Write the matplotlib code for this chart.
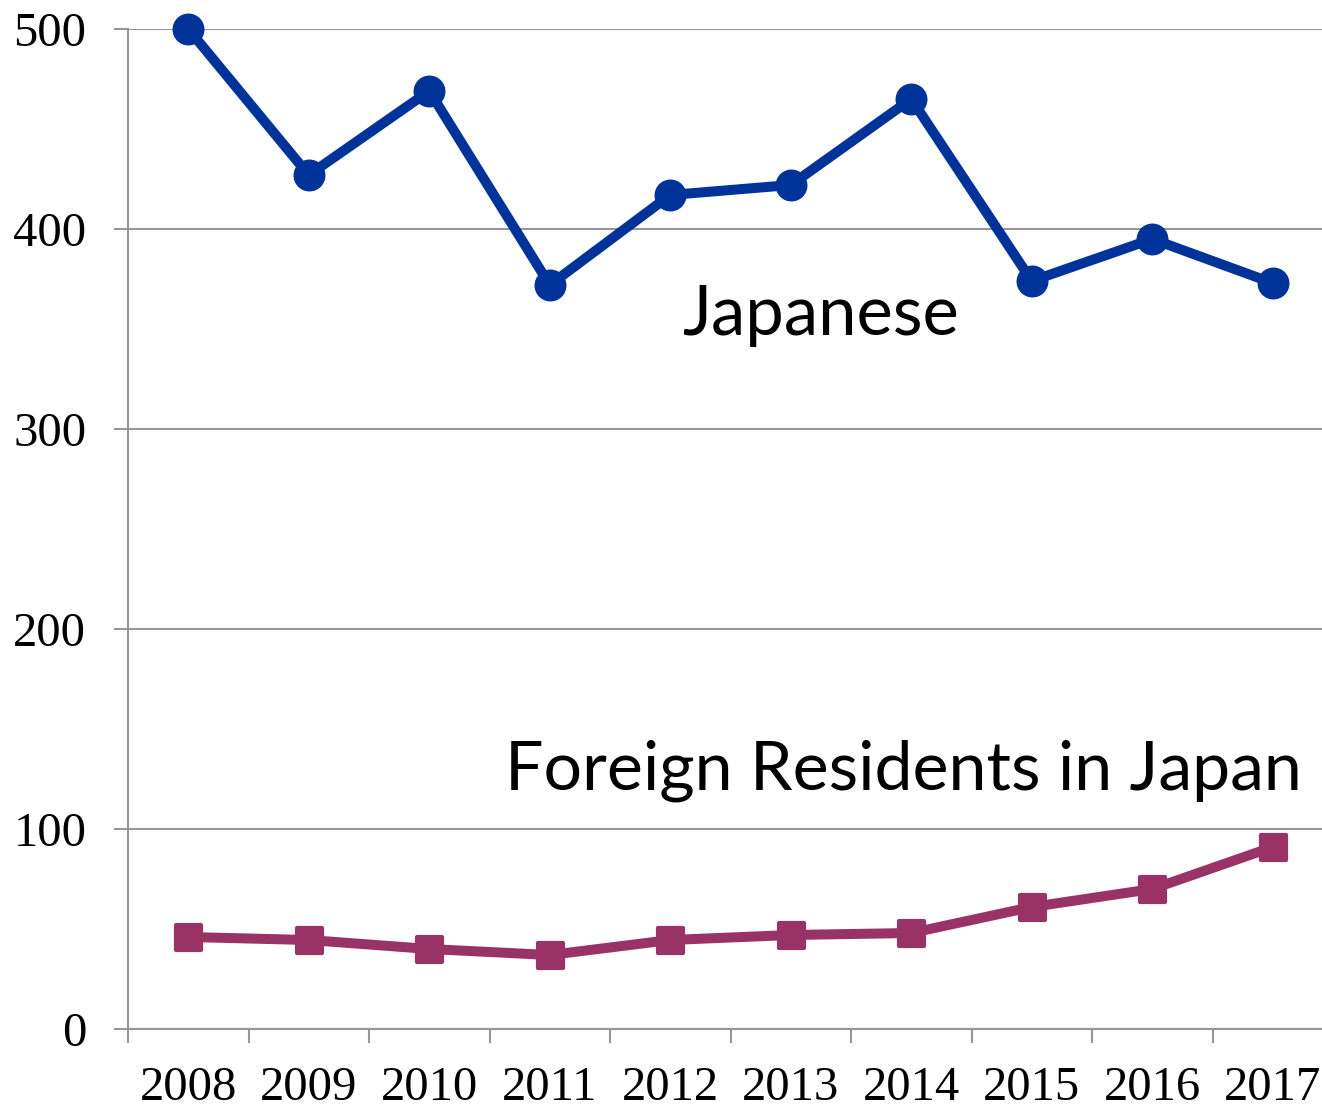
import numpy as np
import matplotlib
matplotlib.use("Agg")
import matplotlib.pyplot as plt
from matplotlib.markers import MarkerStyle

years = ['2008', '2009', '2010', '2011', '2012', '2013', '2014', '2015', '2016', '2017']
japanese = [500, 427, 469, 372, 417, 422, 465, 374, 395, 373]
foreign = [46, 44.5, 40, 37, 44.5, 47, 48, 61, 70, 91]

W, H = 1322, 1108
fig = plt.figure(figsize=(W / 100, H / 100), dpi=100)
# plot area: left edge 128px, category width ~120.5px, y 0..500 over 1000px
ax = fig.add_axes([128 / W, (H - 1029) / H, 1205 / W, 1000 / H])

x = np.arange(len(years))
ax.plot(x, japanese, color='#003399', linewidth=7.2, marker='o', markersize=22,
        solid_joinstyle='round', zorder=3, clip_on=False)
ax.plot(x, foreign, color='#993366', linewidth=7.2,
        marker=MarkerStyle('s', joinstyle='round'), markersize=18,
        markeredgewidth=3, solid_joinstyle='round', zorder=3, clip_on=False)

ax.set_xlim(-0.5, len(years) - 0.5)
ax.set_ylim(0, 500)

grid_c = '#969696'
ax.set_yticks(np.arange(0, 501, 100))
ax.yaxis.grid(True, color=grid_c, linewidth=1.5)
ax.set_axisbelow(True)

# category boundaries carry the tick marks, centres carry the labels
ax.set_xticks(np.arange(-0.5, len(years), 1.0))
ax.set_xticklabels([])
ax.set_xticks(x, minor=True)
ax.set_xticklabels(years, minor=True)

for s in ['top', 'right']:
    ax.spines[s].set_visible(False)
for s in ['left', 'bottom']:
    ax.spines[s].set_color(grid_c)
    ax.spines[s].set_linewidth(1.5)

ax.tick_params(axis='both', which='major', color=grid_c, width=1.5, length=10,
               direction='out')
ax.tick_params(axis='y', pad=20, labelsize=35)
ax.tick_params(axis='x', which='minor', length=0, pad=27, labelsize=35)
for lab in ax.get_yticklabels() + ax.get_xticklabels(minor=True):
    lab.set_fontfamily('Liberation Serif')

ax.text(4.1, 347, 'Japanese', fontsize=49.5, family='Lato', va='baseline', ha='left')
ax.text(2.63, 119.5, 'Foreign Residents in Japan', fontsize=49, family='Lato',
        va='baseline', ha='left')

fig.savefig('out.png', dpi=100)
